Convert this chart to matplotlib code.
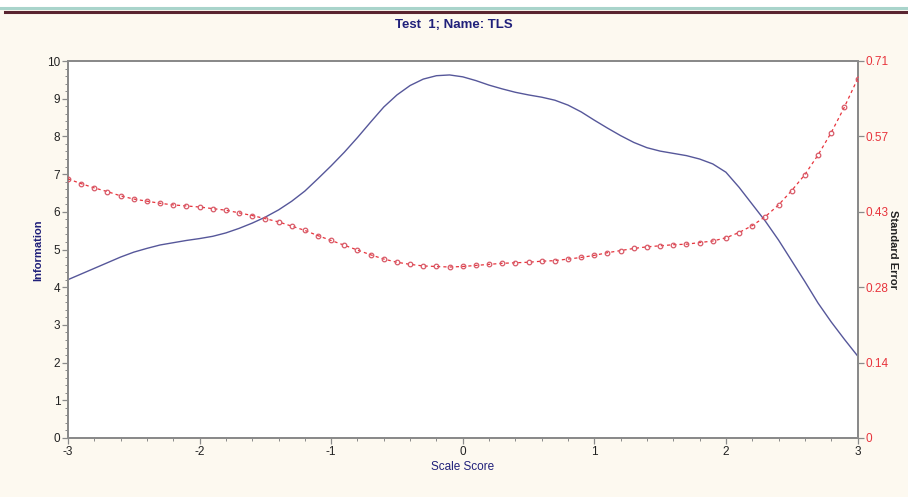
import matplotlib
matplotlib.use("Agg")
import matplotlib.pyplot as plt
from matplotlib.ticker import MultipleLocator
from matplotlib.lines import Line2D

# ---- data ----
scale_score = [round(-3 + 0.1 * i, 1) for i in range(61)]
information = [4.20, 4.35, 4.50, 4.65, 4.80, 4.93, 5.03, 5.12, 5.18, 5.24,
               5.29, 5.35, 5.44, 5.56, 5.70, 5.86, 6.05, 6.28, 6.55, 6.88,
               7.22, 7.58, 7.97, 8.38, 8.78, 9.10, 9.35, 9.52, 9.61, 9.63,
               9.58, 9.48, 9.36, 9.26, 9.17, 9.10, 9.04, 8.96, 8.83, 8.65,
               8.43, 8.22, 8.02, 7.84, 7.70, 7.61, 7.55, 7.49, 7.40, 7.27,
               7.05, 6.65, 6.20, 5.75, 5.25, 4.70, 4.15, 3.58, 3.08, 2.62,
               2.18]
std_error = [0.488, 0.479, 0.471, 0.464, 0.456, 0.450, 0.446, 0.442, 0.439, 0.437,
             0.435, 0.432, 0.429, 0.424, 0.419, 0.413, 0.407, 0.399, 0.391, 0.381,
             0.372, 0.363, 0.354, 0.345, 0.337, 0.331, 0.327, 0.324, 0.323, 0.322,
             0.323, 0.325, 0.327, 0.329, 0.330, 0.331, 0.333, 0.334, 0.337, 0.340,
             0.344, 0.349, 0.353, 0.357, 0.360, 0.362, 0.364, 0.365, 0.368, 0.371,
             0.377, 0.387, 0.400, 0.417, 0.439, 0.466, 0.496, 0.533, 0.575, 0.623,
             0.676]
x_ticks = [-3, -2, -1, 0, 1, 2, 3]
x_tick_labels = ["-3", "-2", "-1", "0", "1", "2", "3"]
info_ticks = list(range(0, 11))
se_ticks = [0, 0.142, 0.284, 0.426, 0.568, 0.71]
se_tick_labels = ["0", "0.14", "0.28", "0.43", "0.57", "0.71"]

# ---- style ----
FONT = ["Liberation Sans Narrow", "Liberation Sans", "DejaVu Sans"]
plt.rcParams['font.family'] = FONT
BG = "#FDF9F0"
NAVY = "#20207a"
RED = "#e8343c"
GRAY = "#8a8a8a"

fig = plt.figure(figsize=(9.08, 4.97), dpi=100, facecolor=BG)
ax = fig.add_axes([68/908, 1 - 438/497, (857.5 - 68)/908, (438 - 61)/497])
ax.set_facecolor("white")

# top border lines
fig.add_artist(Line2D([0, 1], [1 - 8/497, 1 - 8/497], color="#a9d4cb", lw=2.2))
fig.add_artist(Line2D([5/908, 1], [1 - 11.5/497, 1 - 11.5/497], color="#5a2530", lw=2.2))
fig.patches.append(plt.Rectangle((0, 1 - 6.5/497), 1, 6.5/497, transform=fig.transFigure,
                                 facecolor="white", edgecolor="none", zorder=-1))

ax.plot(scale_score, information, color="#56579a", lw=1.0, zorder=3)
ax.set_xlim(-3, 3)
ax.set_ylim(0, 10)
ax.set_xticks(x_ticks)
ax.set_xticklabels(x_tick_labels)
ax.set_yticks(info_ticks)
ax.xaxis.set_minor_locator(MultipleLocator(0.2))
ax.yaxis.set_minor_locator(MultipleLocator(0.2))
ax.tick_params(axis="both", which="major", direction="out", length=4, width=0.9,
               color=GRAY, labelsize=8.5, pad=1.5, labelcolor="#222222")
ax.tick_params(axis="both", which="minor", direction="out", length=2, width=0.7, color=GRAY)
for s in ax.spines.values():
    s.set_color(GRAY)
    s.set_linewidth(1.4)

ax2 = ax.twinx()
ax2.plot(scale_score, std_error, color=RED, lw=0.9, ls=(0, (2.5, 2.5)),
         marker="o", markersize=3.3, markerfacecolor="none",
         markeredgecolor="#d85a68", markeredgewidth=0.9, zorder=4)
ax2.set_ylim(0, 0.71)
ax2.set_yticks(se_ticks)
ax2.set_yticklabels(se_tick_labels)
ax2.tick_params(axis="y", direction="out", length=4, width=0.9, color=GRAY,
                labelsize=8.5, labelcolor=RED, pad=1.5)
for s in ax2.spines.values():
    s.set_color(GRAY)
    s.set_linewidth(1.4)

fig.text(454/908, 1 - 25/497, "Test  1; Name: TLS", ha="center", va="center",
         fontsize=9.5, fontweight="bold", color=NAVY)
fig.text(38/908, 1 - 250/497, "Information", rotation=90, ha="center", va="center",
         fontsize=8, fontweight="bold", color=NAVY)
fig.text(893/908, 1 - 250/497, "Standard Error", rotation=-90, ha="center", va="center",
         fontsize=8, fontweight="bold", color="#222222")
fig.text(463/908, 1 - 467/497, "Scale Score", ha="center", va="center",
         fontsize=8.5, color=NAVY)

fig.savefig("out.png", dpi=100, facecolor=BG)
